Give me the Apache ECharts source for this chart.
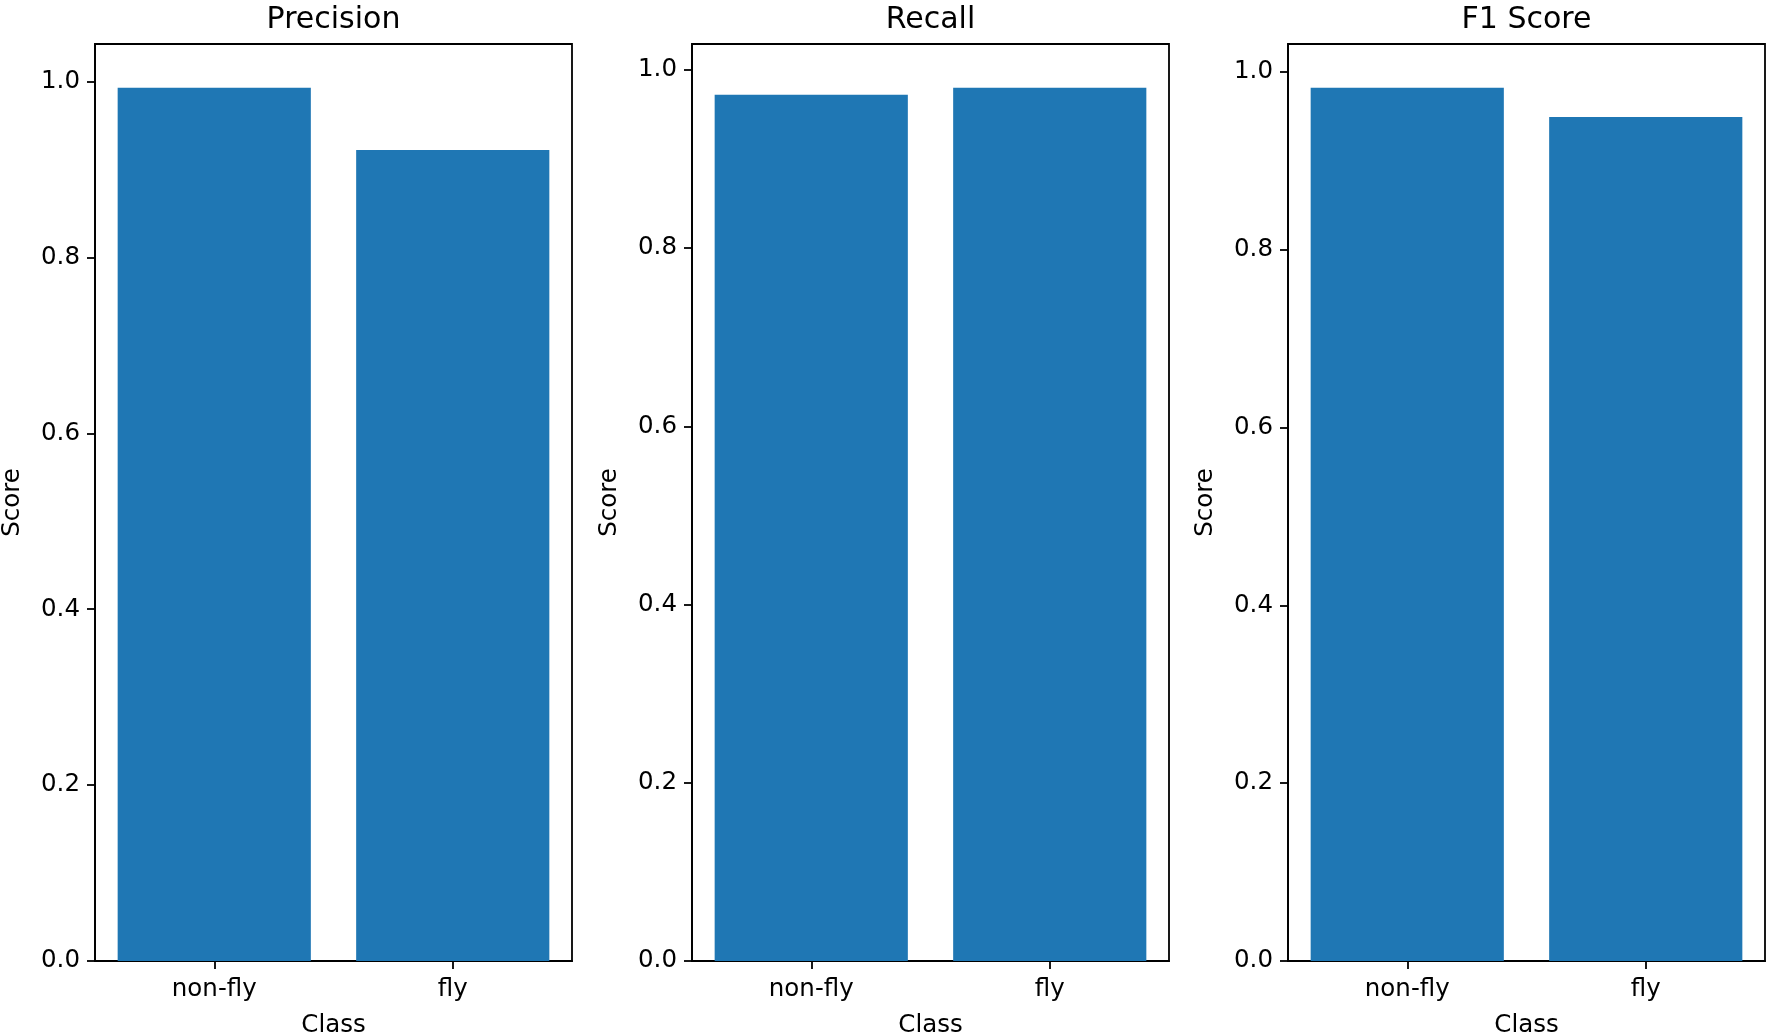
<!DOCTYPE html>
<html>
<head>
<meta charset="utf-8">
<script src="https://cdn.jsdelivr.net/npm/echarts@6/dist/echarts.min.js"></script>
<style>html,body{margin:0;padding:0;background:#fff}#c{width:1770px;height:1036px}</style>
</head>
<body>
<div id="c"></div>
<script>
const categories = ['non-fly', 'fly'];
const panelTitles = ['Precision', 'Recall', 'F1 Score'];
const precision = [0.993, 0.922];
const recall = [0.972, 0.980];
const f1 = [0.982, 0.949];
const yTicks = [0, 0.2, 0.4, 0.6, 0.8, 1.0];
const xAxisName = 'Class';
const yAxisName = 'Score';

const seriesData = [precision, recall, f1];
const lefts = [95, 692, 1288];
const W = 477, TOP = 44, H = 917;
const FONT = 'DejaVu Sans';
const TICK_FS = 24.5, TITLE_FS = 30;

const option = {
  backgroundColor: '#fff',
  animation: false,
  title: [], grid: [], xAxis: [], yAxis: [], series: []
};
seriesData.forEach((vals, i) => {
  const ymax = Math.max(...vals) * 1.05;
  option.title.push({
    text: panelTitles[i], left: lefts[i] + W / 2, top: 5, textAlign: 'center', padding: 0,
    textStyle: { fontFamily: FONT, fontSize: TITLE_FS, fontWeight: 'normal', color: '#000' }
  });
  option.grid.push({
    left: lefts[i], top: TOP, width: W, height: H, containLabel: false, outerBoundsMode: 'none',
    show: true, borderColor: '#000', borderWidth: 1.8, backgroundColor: 'transparent'
  });
  option.xAxis.push({
    type: 'category', gridIndex: i, data: categories,
    name: xAxisName, nameLocation: 'middle', nameGap: 52,
    nameTextStyle: { fontFamily: FONT, fontSize: TICK_FS, color: '#000' },
    axisLine: { show: true, lineStyle: { color: '#000', width: 1.8 } },
    axisTick: { show: true, alignWithLabel: true, length: 8, lineStyle: { color: '#000', width: 1.8 } },
    axisLabel: { margin: 16, fontFamily: FONT, fontSize: TICK_FS, color: '#000' },
    splitLine: { show: false }
  });
  option.yAxis.push({
    type: 'value', gridIndex: i, min: 0, max: ymax, interval: 0.2,
    name: yAxisName, nameLocation: 'middle', nameGap: 70, nameRotate: 90,
    nameTextStyle: { fontFamily: FONT, fontSize: TICK_FS, color: '#000' },
    axisLine: { show: true, lineStyle: { color: '#000', width: 1.8 } },
    axisTick: { show: true, length: 8, customValues: yTicks, lineStyle: { color: '#000', width: 1.8 } },
    axisLabel: { margin: 15, customValues: yTicks, fontFamily: FONT, fontSize: TICK_FS, color: '#000', formatter: v => v.toFixed(1) },
    splitLine: { show: false }
  });
  option.series.push({
    type: 'bar', xAxisIndex: i, yAxisIndex: i, data: vals,
    barCategoryGap: '19%', itemStyle: { color: '#1f77b4' }
  });
});
const chart = echarts.init(document.getElementById('c'), null, { renderer: 'canvas' });
chart.setOption(option);
</script>
</body>
</html>
